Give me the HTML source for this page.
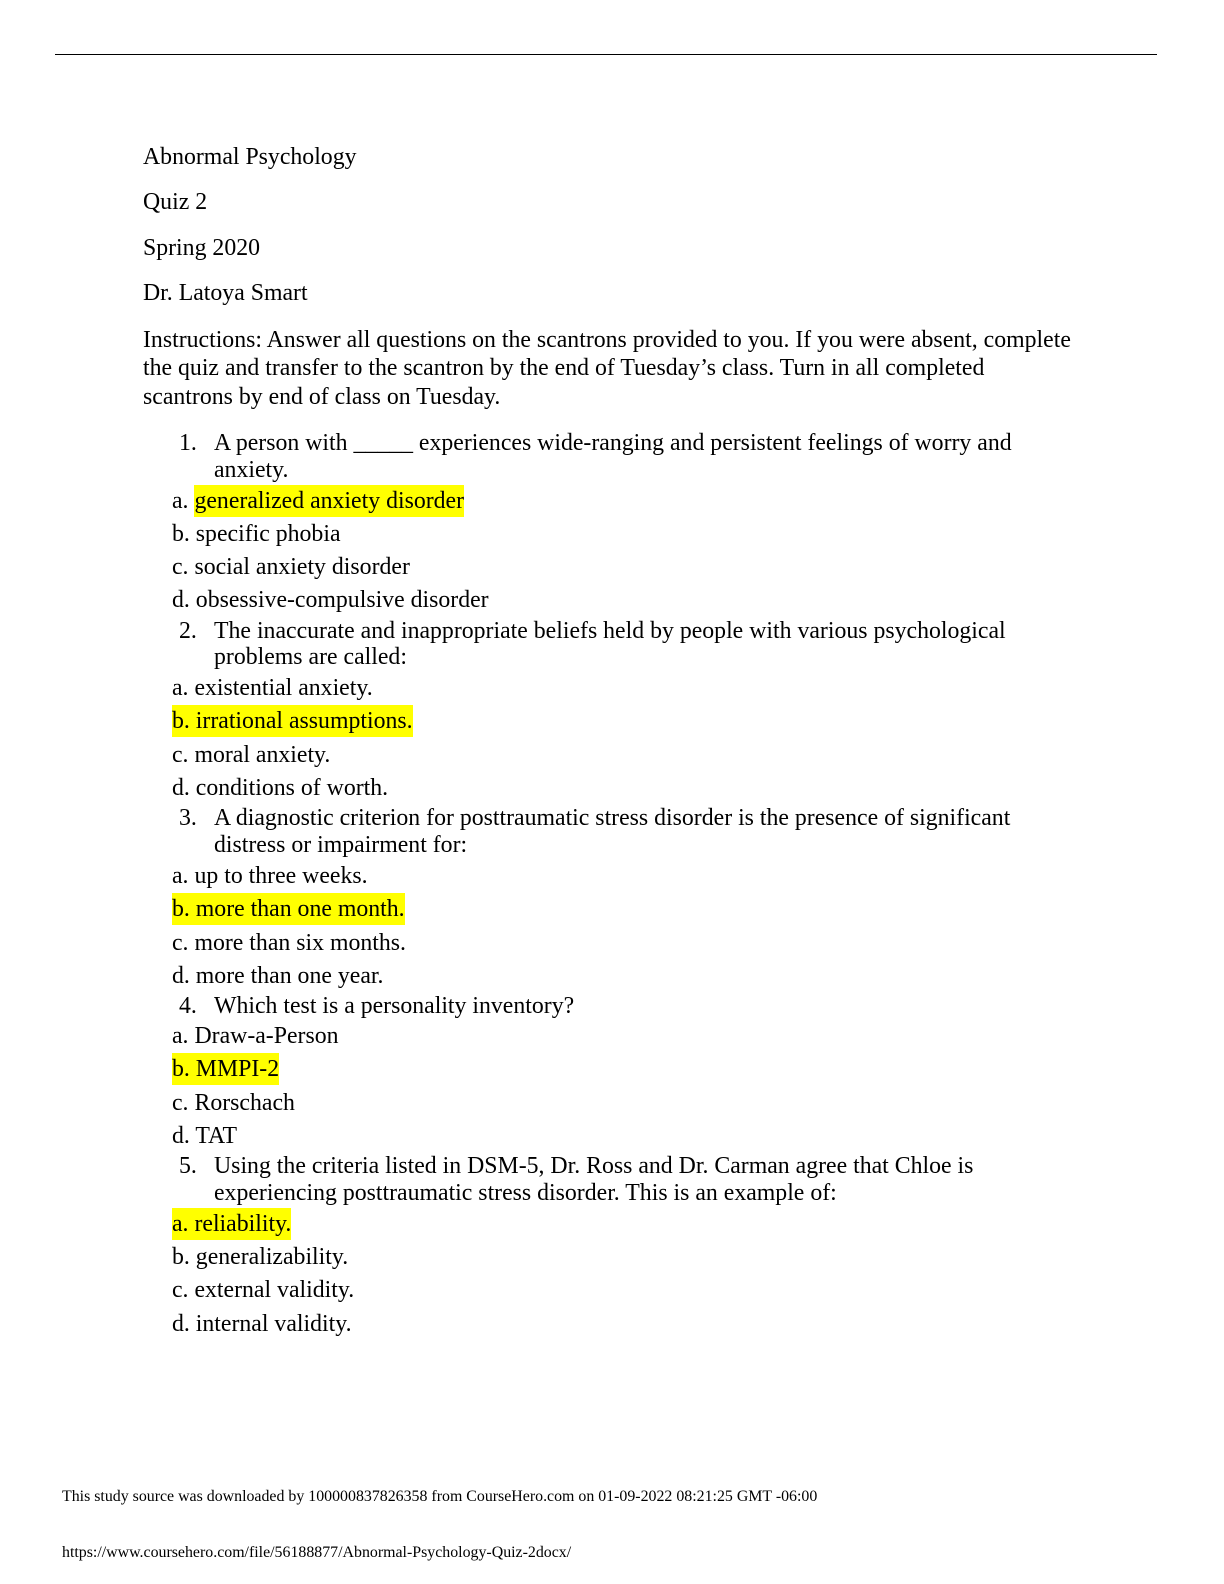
<!DOCTYPE html>
<html><head><meta charset="utf-8"><style>
body{margin:0;width:1224px;height:1584px;background:#fff;position:relative;font-family:"Liberation Serif",serif;color:#000;overflow:hidden}
.l{position:absolute;font-size:23.8px;line-height:22px;white-space:nowrap}
.h{background:#ffff00;padding:3px 0}
.f{position:absolute;font-size:15.9px;line-height:15px;left:62px;white-space:nowrap}
.hr{position:absolute;left:55px;top:54px;width:1102px;height:1px;background:#000}
</style></head><body>
<div class="hr"></div>
<div class="l" style="left:143px;top:146px">Abnormal Psychology</div>
<div class="l" style="left:143px;top:191px">Quiz 2</div>
<div class="l" style="left:143px;top:237px">Spring 2020</div>
<div class="l" style="left:143px;top:282px">Dr. Latoya Smart</div>
<div class="l" style="left:143px;top:329px">Instructions: Answer all questions on the scantrons provided to you. If you were absent, complete</div>
<div class="l" style="left:143px;top:357px">the quiz and transfer to the scantron by the end of Tuesday’s class. Turn in all completed</div>
<div class="l" style="left:143px;top:386px">scantrons by end of class on Tuesday.</div>

<div class="l" style="left:179px;top:432px">1.</div>
<div class="l" style="left:214px;top:432px">A person with _____ experiences wide-ranging and persistent feelings of worry and</div>
<div class="l" style="left:214px;top:459px">anxiety.</div>
<div class="l" style="left:172px;top:490px">a. <span class="h">generalized anxiety disorder</span></div>
<div class="l" style="left:172px;top:523px">b. specific phobia</div>
<div class="l" style="left:172px;top:556px">c. social anxiety disorder</div>
<div class="l" style="left:172px;top:589px">d. obsessive-compulsive disorder</div>

<div class="l" style="left:179px;top:620px">2.</div>
<div class="l" style="left:214px;top:620px">The inaccurate and inappropriate beliefs held by people with various psychological</div>
<div class="l" style="left:214px;top:646px">problems are called:</div>
<div class="l" style="left:172px;top:677px">a. existential anxiety.</div>
<div class="l" style="left:172px;top:710px"><span class="h">b. irrational assumptions.</span></div>
<div class="l" style="left:172px;top:744px">c. moral anxiety.</div>
<div class="l" style="left:172px;top:777px">d. conditions of worth.</div>

<div class="l" style="left:179px;top:807px">3.</div>
<div class="l" style="left:214px;top:807px">A diagnostic criterion for posttraumatic stress disorder is the presence of significant</div>
<div class="l" style="left:214px;top:834px">distress or impairment for:</div>
<div class="l" style="left:172px;top:865px">a. up to three weeks.</div>
<div class="l" style="left:172px;top:898px"><span class="h">b. more than one month.</span></div>
<div class="l" style="left:172px;top:932px">c. more than six months.</div>
<div class="l" style="left:172px;top:965px">d. more than one year.</div>

<div class="l" style="left:179px;top:995px">4.</div>
<div class="l" style="left:214px;top:995px">Which test is a personality inventory?</div>
<div class="l" style="left:172px;top:1025px">a. Draw-a-Person</div>
<div class="l" style="left:172px;top:1058px"><span class="h">b. MMPI-2</span></div>
<div class="l" style="left:172px;top:1092px">c. Rorschach</div>
<div class="l" style="left:172px;top:1125px">d. TAT</div>

<div class="l" style="left:179px;top:1155px">5.</div>
<div class="l" style="left:214px;top:1155px">Using the criteria listed in DSM-5, Dr. Ross and Dr. Carman agree that Chloe is</div>
<div class="l" style="left:214px;top:1182px">experiencing posttraumatic stress disorder. This is an example of:</div>
<div class="l" style="left:172px;top:1213px"><span class="h">a. reliability.</span></div>
<div class="l" style="left:172px;top:1246px">b. generalizability.</div>
<div class="l" style="left:172px;top:1279px">c. external validity.</div>
<div class="l" style="left:172px;top:1313px">d. internal validity.</div>

<div class="f" style="top:1489px">This study source was downloaded by 100000837826358 from CourseHero.com on 01-09-2022 08:21:25 GMT -06:00</div>
<div class="f" style="top:1545px">https://www.coursehero.com/file/56188877/Abnormal-Psychology-Quiz-2docx/</div>
</body></html>
